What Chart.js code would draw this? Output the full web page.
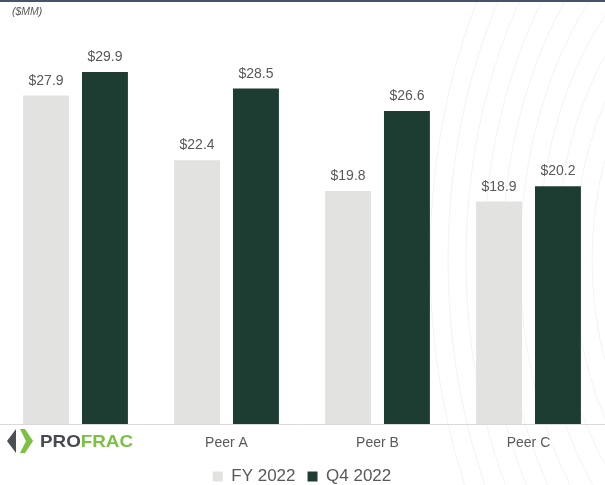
<!DOCTYPE html>
<html>
<head>
<meta charset="utf-8">
<script src="https://cdn.jsdelivr.net/npm/chart.js@4"></script>
<style>
  html, body { margin: 0; padding: 0; background: #fff; }
  #wrap { width: 605px; height: 485px; position: relative; }
</style>
</head>
<body>
<div id="wrap"><canvas id="myChart"></canvas></div>
<script>
var categories = ["ProFrac", "Peer A", "Peer B", "Peer C"];
var fyValues = [27.9, 22.4, 19.8, 18.9];
var q4Values = [29.9, 28.5, 26.6, 20.2];
var seriesNames = ["FY 2022", "Q4 2022"];
var barColors = ["#e2e2e0", "#1e3d32"];

var textGray = "#595959";

// background arcs, top rule, unit label, logo and value labels
var decor = {
    id: "decor",
    beforeInit: function (chart) {
        // make the legend box shorter so it sits closer to the bottom edge
        var fit = chart.legend.fit;
        chart.legend.fit = function () {
            fit.call(this);
            this.height = 29;
        };
    },
    beforeDraw: function (chart) {
        var ctx = chart.ctx;
        ctx.save();
        ctx.strokeStyle = "rgba(0,0,0,0.05)";
        ctx.lineWidth = 1;
        for (var r = 160; r <= 340; r += 18) {
            ctx.beginPath();
            ctx.ellipse(770, 260, r, r * 1.5, 0, 0, Math.PI * 2);
            ctx.stroke();
        }
        ctx.restore();
    },
    afterDraw: function (chart) {
        var ctx = chart.ctx;
        ctx.save();
        ctx.fillStyle = "#44546a";
        ctx.fillRect(0, 0, chart.width, 2);

        ctx.fillStyle = textGray;
        ctx.font = "italic 10.5px 'Liberation Sans', Arial, sans-serif";
        ctx.textAlign = "left";
        ctx.textBaseline = "middle";
        ctx.fillText("($MM)", 12, 12);

        // logo in place of the first category label
        var cy = 441;
        ctx.fillStyle = "#4b4f54";
        ctx.beginPath();
        ctx.moveTo(16, cy - 12);
        ctx.lineTo(7, cy);
        ctx.lineTo(16, cy + 12);
        ctx.closePath();
        ctx.fill();
        ctx.fillStyle = "#7cc142";
        ctx.beginPath();
        ctx.moveTo(20, cy - 12);
        ctx.lineTo(25, cy - 12);
        ctx.lineTo(33, cy);
        ctx.lineTo(25, cy + 12);
        ctx.lineTo(20, cy + 12);
        ctx.lineTo(26, cy);
        ctx.closePath();
        ctx.fill();

        ctx.font = "bold 17px 'Liberation Sans', Arial, sans-serif";
        var w1 = ctx.measureText("PRO").width;
        var w2 = ctx.measureText("FRAC").width;
        var sx = 93 / (w1 + w2);
        ctx.translate(40, cy);
        ctx.scale(sx, 1);
        ctx.textBaseline = "middle";
        ctx.fillStyle = "#474b50";
        ctx.fillText("PRO", 0, 1);
        ctx.fillStyle = "#7cc142";
        ctx.fillText("FRAC", w1, 1);
        ctx.restore();
    },
    afterDatasetsDraw: function (chart) {
        var ctx = chart.ctx;
        ctx.save();
        ctx.fillStyle = textGray;
        ctx.font = "14px 'Liberation Sans', Arial, sans-serif";
        ctx.textAlign = "center";
        ctx.textBaseline = "alphabetic";
        chart.data.datasets.forEach(function (ds, i) {
            chart.getDatasetMeta(i).data.forEach(function (bar, j) {
                ctx.fillText("$" + ds.data[j].toFixed(1), bar.x, bar.y - 11);
            });
        });
        ctx.restore();
    }
};

new Chart("myChart", {
    type: "bar",
    data: {
        labels: categories,
        datasets: [{
            label: seriesNames[0],
            backgroundColor: barColors[0],
            data: fyValues
        }, {
            label: seriesNames[1],
            backgroundColor: barColors[1],
            data: q4Values
        }]
    },
    options: {
        responsive: true,
        maintainAspectRatio: false,
        animation: false,
        categoryPercentage: 0.78,
        barPercentage: 0.78,
        layout: {
            padding: { top: 12, left: 0, right: 1, bottom: 0 }
        },
        scales: {
            x: {
                grid: { display: false, drawTicks: false },
                border: { color: "#d9d9d9", width: 1 },
                afterFit: function (scale) { scale.height = 32; },
                ticks: {
                    color: textGray,
                    padding: 11,
                    font: { family: "'Liberation Sans', Arial, sans-serif", size: 14 },
                    callback: function (v, i) { return i === 0 ? "" : categories[i]; }
                }
            },
            y: {
                display: false,
                min: 0,
                max: 35
            }
        },
        plugins: {
            legend: {
                position: "bottom",
                labels: {
                    color: textGray,
                    boxWidth: 10,
                    boxHeight: 10,
                    padding: 12,
                    font: { family: "'Liberation Sans', Arial, sans-serif", size: 17 }
                }
            },
            title: { display: false },
            tooltip: { enabled: false }
        }
    },
    plugins: [decor]
});
</script>
</body>
</html>
